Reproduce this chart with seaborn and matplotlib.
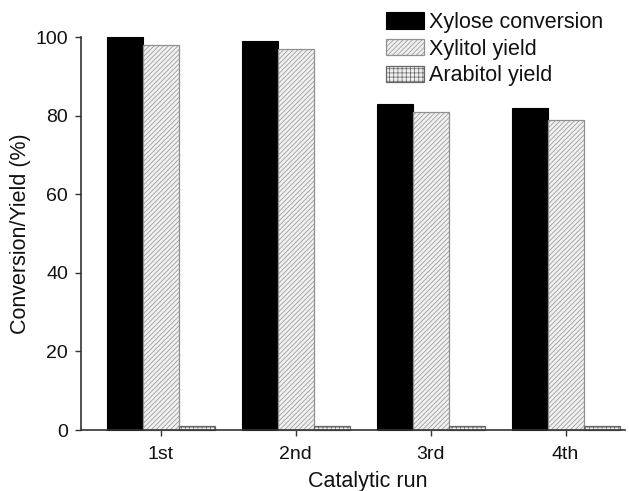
import matplotlib
matplotlib.use("Agg")
import matplotlib.pyplot as plt
import seaborn as sns
import pandas as pd

runs = ["1st", "2nd", "3rd", "4th"]
series = ["Xylose conversion", "Xylitol yield", "Arabitol yield"]
xylose_conversion = [100, 99, 83, 82]
xylitol_yield = [98, 97, 81, 79]
arabitol_yield = [1, 1, 1, 1]
y_ticks = [0, 20, 40, 60, 80, 100]

df = pd.DataFrame({
    "run": runs * 3,
    "series": [series[0]] * 4 + [series[1]] * 4 + [series[2]] * 4,
    "value": xylose_conversion + xylitol_yield + arabitol_yield,
})

sns.set_theme(style="ticks")
plt.rcParams["font.family"] = ["Liberation Sans", "DejaVu Sans"]
plt.rcParams["hatch.linewidth"] = 0.5
plt.rcParams["text.color"] = "#111111"
plt.rcParams["axes.labelcolor"] = "#111111"
plt.rcParams["xtick.labelcolor"] = "#111111"
plt.rcParams["ytick.labelcolor"] = "#111111"

fig = plt.figure(figsize=(6.29, 4.91), dpi=100)
ax = fig.add_axes([0.128, 0.1242, 0.8656, 0.8004])

sns.barplot(data=df, x="run", y="value", hue="series", order=runs,
            hue_order=series, palette=["black", "white", "white"],
            width=0.8, errorbar=None, legend=False, ax=ax)

styles = [
    dict(facecolor="black", edgecolor="black", hatch=None, lw=0.8),
    dict(facecolor="#f0f0f0", edgecolor="#909090", hatch="///////", lw=0.9),
    dict(facecolor="#f0f0f0", edgecolor="#666666", hatch="++++", lw=0.9),
]
for cont, st in zip(ax.containers, styles):
    for p in cont:
        p.set_facecolor(st["facecolor"])
        p.set_edgecolor(st["edgecolor"])
        p.set_linewidth(st["lw"])
        if st["hatch"]:
            p.set_hatch(st["hatch"])
        p.set_clip_on(False)

ax.set_xlim(-0.596, 3.44)
ax.set_ylim(0, 100)
ax.set_yticks(y_ticks)
ax.set_xlabel("Catalytic run", fontsize=15.5)
ax.set_ylabel("Conversion/Yield (%)", fontsize=15.5, labelpad=3)
ax.xaxis.set_label_coords(0.528, -0.105)
ax.tick_params(axis="both", labelsize=14, width=1.0, color="#333333",
               direction="out")
ax.tick_params(axis="x", length=4.5, pad=7)
ax.tick_params(axis="y", length=4, pad=5)
for side in ["top", "right"]:
    ax.spines[side].set_visible(False)
for side in ["left", "bottom"]:
    ax.spines[side].set_color("#333333")
    ax.spines[side].set_linewidth(1.2)

fig.legend(ax.containers, series, loc="upper left",
           bbox_to_anchor=(386 / 629, 1 - 12 / 491),
           bbox_transform=fig.transFigure, frameon=False, fontsize=15.5,
           handlelength=1.77, handleheight=0.79, handletextpad=0.23,
           labelspacing=0.26, borderpad=0, borderaxespad=0)

fig.savefig("out.png", dpi=100)
